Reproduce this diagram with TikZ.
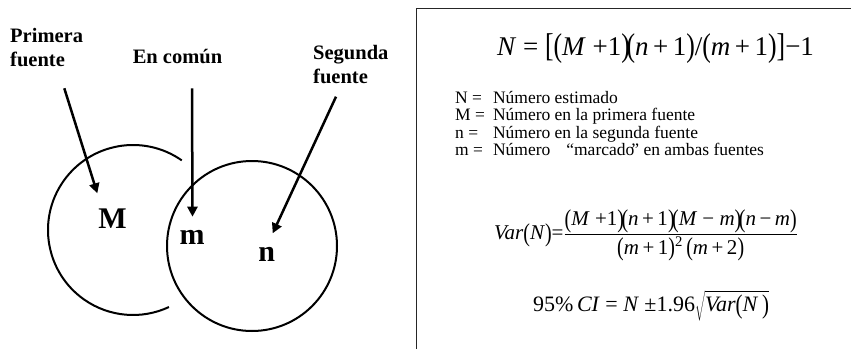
\documentclass[tikz,border=0pt]{standalone}
\usepackage{fontspec}
\setmainfont{Liberation Serif}
\usetikzlibrary{arrows.meta}
\newcommand{\tallglyph}[1]{\raisebox{-0.06em}{\scalebox{0.95}[1.22]{#1}}}
\newcommand{\lp}{\tallglyph{(}}
\newcommand{\rp}{\tallglyph{)}}

\begin{document}
\begin{tikzpicture}[
    x=1pt, y=1pt,
    srclabel/.style={font=\bfseries\fontsize{20.5}{24}\selectfont, align=left, inner sep=0pt},
    setletter/.style={font=\bfseries\fontsize{30}{36}\selectfont, inner sep=0pt},
    ring/.style={line width=2pt},
    arrow/.style={-{Triangle[length=10pt,width=10pt]}, line width=2.5pt},
    panel/.style={line width=1pt, black!85},
    formula/.style={inner sep=0pt}
  ]
    \useasboundingbox (0,0) rectangle (851,349);

    % the two sources as circles
    \coordinate (cM) at (133,119);
    \coordinate (cn) at (252,103);
    \draw[ring] (cM) ++(55:85) arc[start angle=55, end angle=295, radius=85];
    \draw[ring] (cn) circle[radius=85];

    \node[setletter] (M) at (112.5,130.3) {M};
    \node[setletter] (m) at (192,111.5) {m};
    \node[setletter] (n) at (266.7,94.5) {n};

    \node[srclabel, anchor=west] (first) at (10,301) {Primera\\fuente};
    \node[srclabel, anchor=base] (common) at (177.5,285.7) {En común};
    \node[srclabel, anchor=west] (second) at (313,284) {Segunda\\fuente};

    \coordinate (firstA) at (64.3,260.7);
    \coordinate (firstB) at (97.3,155.7);
    \coordinate (commonA) at (192,260.7);
    \coordinate (commonB) at (192.5,132.3);
    \coordinate (secondA) at (336,252.3);
    \coordinate (secondB) at (272.7,115.7);
    \draw[arrow] (firstA) -- (firstB);
    \draw[arrow] (commonA) -- (commonB);
    \draw[arrow] (secondA) -- (secondB);

    % estimator panel
    \coordinate (panelA) at (416,0);
    \coordinate (panelB) at (851,340);
    \draw[panel] (panelA) |- (panelB);

    \node[formula, font=\fontsize{27}{30}\selectfont] (estimate) at (655.5,300)
      {\textit{N} = \tallglyph{[}\lp\textit{M} +1\rp\kern-0.12em\lp\textit{n}\,+\,1\rp/\lp\textit{m}\,+\,1\rp\tallglyph{]}−1};

    \node[anchor=base west, inner sep=0pt, font=\fontsize{17.5}{17.5}\selectfont] (legend) at (455,246)
      {\begin{tabular}[t]{@{}l@{\hspace{8pt}}l@{}}
        N = & Número estimado\\
        M = & Número en la primera fuente\\
        n = & Número en la segunda fuente\\
        m = & Número\hspace{16pt}“marcado\kern-3pt” en ambas fuentes
      \end{tabular}};

    \node[formula, font=\fontsize{21}{24}\selectfont] (variance) at (646,114)
      {\textit{Var}\lp\textit{N}\rp=$\displaystyle\frac{\hbox{\lp\textit{M} +1\rp\kern-0.12em\lp\textit{n}\,+\,1\rp\kern-0.12em\lp\textit{M} − \textit{m}\rp\kern-0.12em\lp\textit{n}\,−\,\textit{m}\rp}}{\hbox{\lp\textit{m}\,+\,1\rp\textsuperscript{2}\,\lp\textit{m}\,+\,2\rp}}$};

    \node[formula, font=\fontsize{22}{24}\selectfont] (interval) at (651,43)
      {95\%\,\textit{CI} = \textit{N} ±1.96$\sqrt{\hbox{\textit{Var}\lp\textit{N}\,\rp}}$};
\end{tikzpicture}
\end{document}
